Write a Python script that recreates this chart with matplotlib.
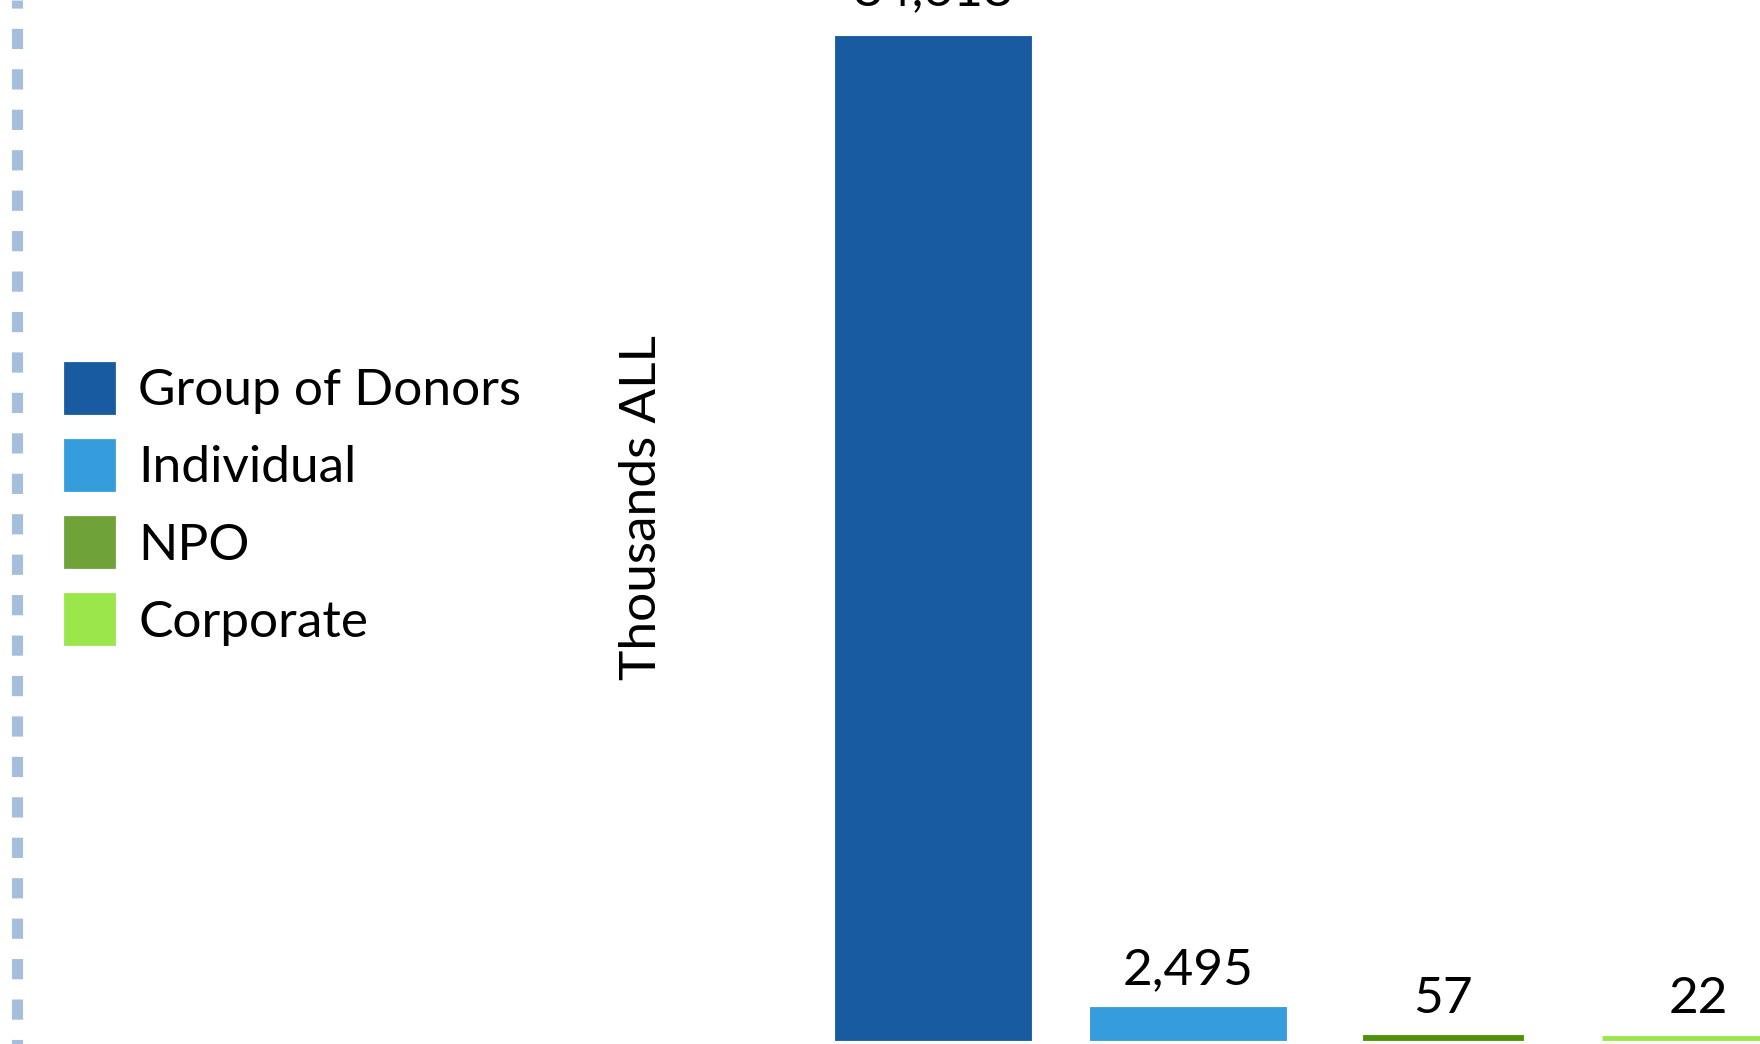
import matplotlib
matplotlib.use("Agg")
import matplotlib.pyplot as plt
from matplotlib.patches import Patch
from matplotlib.lines import Line2D

plt.rcParams['font.family'] = ['Lato', 'DejaVu Sans']

# data
categories = ["Group of Donors", "Individual", "NPO", "Corporate"]
values = [84618, 2495, 57, 22]

# colours (legend swatch for NPO is lighter than its bar)
bar_colors = ["#185ba0", "#369ddc", "#4f9108", "#9be64a"]
legend_colors = ["#185ba0", "#369ddc", "#70a23a", "#9be64a"]
bar_widths = [0.755, 0.755, 0.61, 0.755]
label_pad = [17, 11, 11, 11]

fig = plt.figure(figsize=(17.6, 10.44), dpi=100)
ax = fig.add_axes([0, 0, 1, 1])

pos = list(range(len(values)))
bars = ax.bar(pos, values, width=bar_widths, color=bar_colors,
              edgecolor=bar_colors, linewidth=3.5)

# value labels above bars
for p, v, pad in zip(pos, values, label_pad):
    ax.annotate("{:,.0f}".format(v), xy=(p, v), xytext=(0, pad),
                textcoords="offset points", ha="center", va="bottom",
                fontsize=37)

top = max(values)
ax.set_xlim(-3.659, 3.243)
ax.set_ylim(-0.006 * top, 1.038 * top)
ax.axis("off")

# legend on the left
handles = [Patch(facecolor=c, edgecolor=c, linewidth=2, joinstyle="round")
           for c in legend_colors]
fig.legend(handles, categories, loc="center left",
           bbox_to_anchor=(0.037, 0.517), frameon=False, fontsize=37,
           handlelength=0.95, handleheight=1.12, handletextpad=0.47,
           labelspacing=0.5, borderpad=0, borderaxespad=0)

# axis title
fig.text(0.365, 0.514, "Thousands ALL", rotation=90, ha="center",
         va="center", fontsize=37)

# dotted border on the left
fig.add_artist(Line2D([0.0094, 0.0094], [1, 0], transform=fig.transFigure,
                      color="#a4bedb", linewidth=8,
                      linestyle=(1.09, (1.82, 1.82)), solid_capstyle="butt",
                      dash_capstyle="butt"))

fig.savefig("out.png", dpi=100)
